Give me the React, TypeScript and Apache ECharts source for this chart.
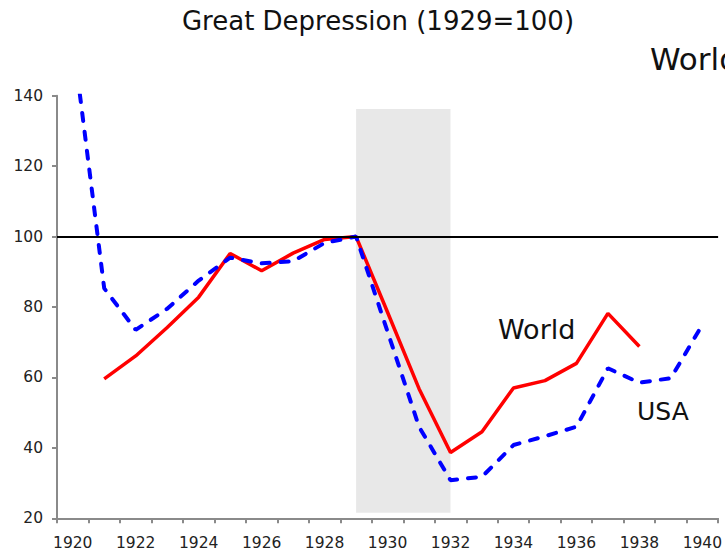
import React, { useEffect, useRef } from "react";
import * as echarts from "echarts";

const years = [
  "1920", "1921", "1922", "1923", "1924", "1925", "1926", "1927", "1928", "1929", "1930",
  "1931", "1932", "1933", "1934", "1935", "1936", "1937", "1938", "1939", "1940",
];
const worldValues: (number | string)[] = [
  "-", 59.6, 66.1, 74.2, 82.8, 95.2, 90.3, 95.3, 99.2, 100, 78.5,
  56.8, 38.7, 44.6, 57.0, 59.1, 64.0, 78.2, 68.8, "-", "-",
];
const usaValues: number[] = [
  156.5, 85.3, 73.5, 79.5, 87.5, 94.0, 92.4, 93.0, 98.2, 100, 73.0,
  46.0, 30.8, 31.8, 40.8, 43.3, 46.0, 62.6, 58.5, 59.8, 75.0,
];
const yTicks = { min: 20, max: 140, interval: 20 };
const recession = { from: "1929", to: "1932", low: 21.6, high: 136.2 };
const refLevel = 100;
const titleText = "Great Depression (1929=100)";
const labels = { world: "World", usa: "USA" };

const FONT = "'DejaVu Sans', sans-serif";

export default function App() {
  const ref = useRef<HTMLDivElement>(null);
  useEffect(() => {
    if (!ref.current) return;
    const chart = echarts.init(ref.current, undefined, { renderer: "svg" });
    chart.setOption({
      animation: false,
      backgroundColor: "#ffffff",
      grid: { left: 57, right: 3, top: 95.7, bottom: 37.7, containLabel: false },
      xAxis: {
        type: "category",
        data: years,
        boundaryGap: true,
        axisLine: { lineStyle: { color: "#8a8a8a", width: 2 } },
        axisTick: { show: true, interval: 0, length: 5, lineStyle: { color: "#8a8a8a", width: 2 } },
        axisLabel: { interval: 1, color: "#222", fontSize: 15.5, fontFamily: FONT, margin: 17 },
        splitLine: { show: false },
      },
      yAxis: {
        type: "value",
        min: yTicks.min,
        max: yTicks.max,
        interval: yTicks.interval,
        axisLine: { show: true, lineStyle: { color: "#8a8a8a", width: 2 } },
        axisTick: { show: true, length: 5, lineStyle: { color: "#8a8a8a", width: 2 } },
        axisLabel: { color: "#222", fontSize: 15.5, fontFamily: FONT, margin: 14 },
        splitLine: { show: false },
      },
      series: [
        {
          name: "World",
          type: "line",
          data: worldValues,
          symbol: "none",
          z: 3,
          lineStyle: { color: "#ff0000", width: 3.5 },
          markLine: {
            silent: true,
            symbol: "none",
            label: { show: false },
            lineStyle: { color: "#000", width: 2, type: "solid" },
            data: [{ yAxis: refLevel }],
          },
        },
        {
          name: "USA",
          type: "line",
          data: usaValues,
          symbol: "none",
          clip: true,
          z: 4,
          lineStyle: { color: "#0000ff", width: 4, type: [8, 11], cap: "round" },
        },
        {
          name: "band",
          type: "line",
          data: [],
          z: 10,
          markArea: {
            silent: true,
            label: { show: false },
            itemStyle: { color: "rgba(190,190,190,0.35)" },
            data: [[
              { xAxis: recession.from, yAxis: recession.low },
              { xAxis: recession.to, yAxis: recession.high },
            ]],
          },
        },
      ],
      graphic: [
        {
          type: "text",
          x: 378,
          y: 20.5,
          style: { text: titleText, font: `26px ${FONT}`, fill: "#111", align: "center", verticalAlign: "middle" },
        },
        {
          type: "text",
          x: 650,
          y: 58.5,
          style: { text: labels.world, font: `31px ${FONT}`, fill: "#111", align: "left", verticalAlign: "middle" },
        },
        {
          type: "text",
          x: 498,
          y: 329.5,
          style: { text: labels.world, font: `27px ${FONT}`, fill: "#111", align: "left", verticalAlign: "middle" },
        },
        {
          type: "text",
          x: 637,
          y: 411,
          style: { text: labels.usa, font: `25px ${FONT}`, fill: "#111", align: "left", verticalAlign: "middle" },
        },
      ],
    });
    return () => chart.dispose();
  }, []);
  return <div ref={ref} style={{ width: 725, height: 556, position: "absolute", left: 0, top: 0 }} />;
}
